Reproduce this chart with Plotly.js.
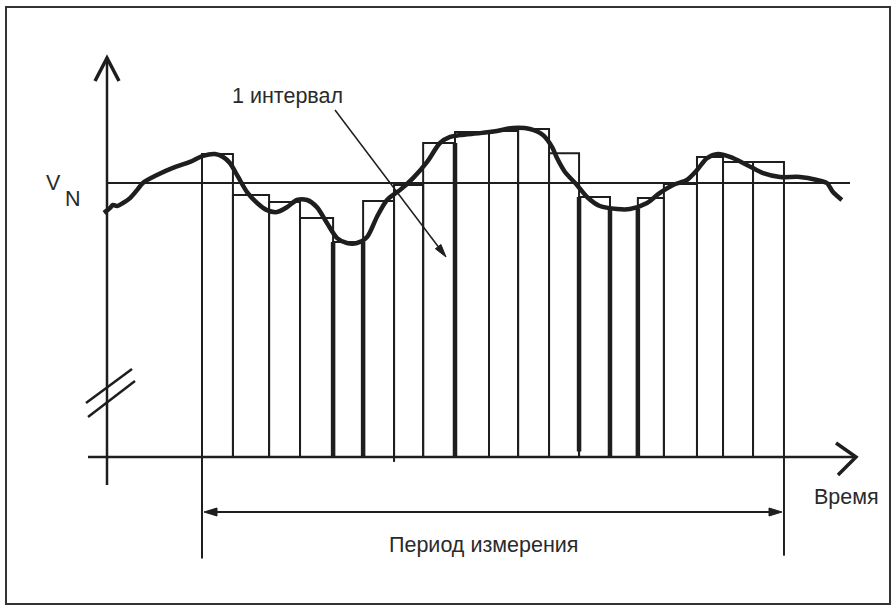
<!DOCTYPE html>
<html><head><meta charset="utf-8">
<script src="https://cdn.plot.ly/plotly-3.0.1.min.js"></script>
<style>html,body{margin:0;padding:0;background:#fff}#chart{width:896px;height:611px}</style>
</head><body><div id="chart"></div>
<script>
// ---- data (time in interval units from the start of the measuring period, value with V_N = 100) ----
const intervalEdges = [0, 1.01, 2.19, 3.20, 4.28, 5.26, 6.27, 7.22, 8.26, 9.37, 10.32, 11.33, 12.31, 13.32, 14.23, 15.08, 16.16, 17.01, 17.99, 19.0];
const intervalMeans = [110.6, 95.6, 93.1, 87.2, 78.5, 93.4, 99.3, 114.6, 118.6, 119.0, 119.7, 110.9, 94.9, 90.5, 94.5, 99.6, 109.5, 107.7, 107.7];
const signalTime = [-3.20,-3.00,-2.91,-2.78,-2.58,-2.35,-2.12,-1.93,-1.47,-0.95,-0.39,0.03,0.42,0.69,0.91,1.18,1.47,1.80,2.12,2.45,2.78,3.10,3.43,3.75,4.08,4.41,4.73,5.06,5.39,5.71,6.04,6.46,6.89,7.35,7.77,8.10,8.42,9.08,9.63,10.15,10.71,11.13,11.43,11.59,11.85,12.24,12.57,12.99,13.55,13.97,14.53,14.95,15.38,15.83,16.16,16.49,16.85,17.24,17.79,18.32,18.87,19.52,20.08,20.40,20.60,20.89];
const signalValue = [89.1,90.9,92.0,91.6,92.7,94.5,97.4,100.0,102.9,105.5,107.7,109.9,110.6,109.5,107.3,102.2,96.7,92.7,90.1,89.4,91.2,93.8,93.8,91.2,85.4,79.9,78.1,78.1,80.3,87.6,93.8,97.4,101.8,107.7,114.6,116.8,117.5,118.2,119.0,120.1,119.7,117.5,113.1,109.1,104.0,99.3,94.9,91.6,90.5,90.5,92.7,96.4,99.3,101.1,104.7,109.1,110.6,109.5,106.6,103.6,102.2,102.2,101.1,100.0,96.7,93.8];
const nominalLevel = 100;
const heavyEdges = [4, 5, 8, 12, 13, 14];
const labelInterval = '1 интервал';
const labelTime = 'Время';
const labelPeriod = 'Период измерения';

// ---- layout helpers (pixel -> paper) ----
const W = 896, H = 611;
const PX = x => x / W, PY = y => 1 - y / H;
const INK = '#1e1e1e';
function pathPx(pts, close) {
  return pts.map((p, i) => (i ? 'L' : 'M') + PX(p[0]).toFixed(5) + ',' + PY(p[1]).toFixed(5)).join(' ') + (close ? ' Z' : '');
}
function lineShape(pts, w) {
  return {type: 'path', xref: 'paper', yref: 'paper', path: pathPx(pts, false), line: {color: INK, width: w}};
}
function headShape(tip, from, len, half) {
  const dx = tip[0] - from[0], dy = tip[1] - from[1], d = Math.hypot(dx, dy);
  const ux = dx / d, uy = dy / d, bx = tip[0] - ux * len, by = tip[1] - uy * len;
  const pts = [tip, [bx - uy * half, by + ux * half], [bx + uy * half, by - ux * half]];
  return {type: 'path', xref: 'paper', yref: 'paper', path: pathPx(pts, true), fillcolor: INK, line: {color: INK, width: 1}};
}

// ---- traces ----
const centers = [], widths = [];
for (let i = 0; i < intervalMeans.length; i++) {
  centers.push((intervalEdges[i] + intervalEdges[i + 1]) / 2);
  widths.push(intervalEdges[i + 1] - intervalEdges[i]);
}
const bars = {
  type: 'bar', x: centers, y: intervalMeans, width: widths, base: 0,
  marker: {color: 'rgba(0,0,0,0)', line: {color: INK, width: 2}},
  hoverinfo: 'skip', showlegend: false
};
const hx = [], hy = [];
heavyEdges.forEach(i => {
  const top = Math.min(intervalMeans[i - 1], intervalMeans[i]);
  hx.push(intervalEdges[i], intervalEdges[i], null);
  hy.push(i === 12 ? 2 : 0, top, null);
});
const heavy = {type: 'scatter', mode: 'lines', x: hx, y: hy, line: {color: INK, width: 4.5}, hoverinfo: 'skip', showlegend: false};
const last = intervalEdges.length - 1;
const ext = {
  type: 'scatter', mode: 'lines',
  x: [intervalEdges[0], intervalEdges[0], null, intervalEdges[last], intervalEdges[last], null, intervalEdges[6], intervalEdges[6]],
  y: [0, -37, null, 0, -36, null, 0, -1.8],
  line: {color: INK, width: 2}, hoverinfo: 'skip', showlegend: false
};
const signal = {
  type: 'scatter', mode: 'lines', x: signalTime, y: signalValue,
  line: {color: INK, width: 4.5, shape: 'spline', smoothing: 0.8},
  hoverinfo: 'skip', showlegend: false
};

// ---- decorations ----
const shapes = [
  {type: 'rect', xref: 'paper', yref: 'paper', x0: PX(6), x1: PX(890), y0: PY(604), y1: PY(7), line: {color: '#333', width: 2}},
  {type: 'line', xref: 'paper', yref: 'y', x0: PX(107), x1: PX(850), y0: nominalLevel, y1: nominalLevel, line: {color: INK, width: 2}},
  lineShape([[107, 57], [107, 485]], 2.5),
  lineShape([[88, 457], [856, 457]], 2.5),
  lineShape([[95, 81], [107, 58], [119, 81]], 3.5),
  lineShape([[836, 443], [856, 457], [838, 475]], 3.5),
  lineShape([[86, 403], [132, 369]], 2.5),
  lineShape([[88, 417], [135, 381]], 2.5),
  lineShape([[212, 512], [774, 512]], 2),
  headShape([204, 512], [230, 512], 13, 4),
  headShape([782, 512], [760, 512], 13, 4),
  lineShape([[335, 110], [440, 249]], 1.5),
  headShape([446, 257], [335, 110], 13, 3.5)
];
const font = {family: 'Liberation Sans, Arial, sans-serif', size: 21.5, color: '#2a2a2a'};
function label(text, x, y) {
  return {xref: 'paper', yref: 'paper', x: PX(x), y: PY(y), xanchor: 'center', yanchor: 'middle', text: text, showarrow: false, font: font};
}
const annotations = [
  label(labelInterval, 287, 96),
  label(labelTime, 846, 497),
  label(labelPeriod, 483, 545),
  label('V', 53, 183),
  label('N', 73, 199)
];

const layout = {
  width: W, height: H, margin: {l: 0, r: 0, t: 0, b: 0, pad: 0},
  paper_bgcolor: '#fff', plot_bgcolor: '#fff', showlegend: false, bargap: 0,
  xaxis: {range: [-202 / 30.63, 694 / 30.63], visible: false, fixedrange: true},
  yaxis: {range: [-154 / 2.74, 457 / 2.74], visible: false, fixedrange: true},
  shapes: shapes, annotations: annotations
};
Plotly.newPlot('chart', [bars, heavy, ext, signal], layout, {displayModeBar: false, staticPlot: true});
</script></body></html>
